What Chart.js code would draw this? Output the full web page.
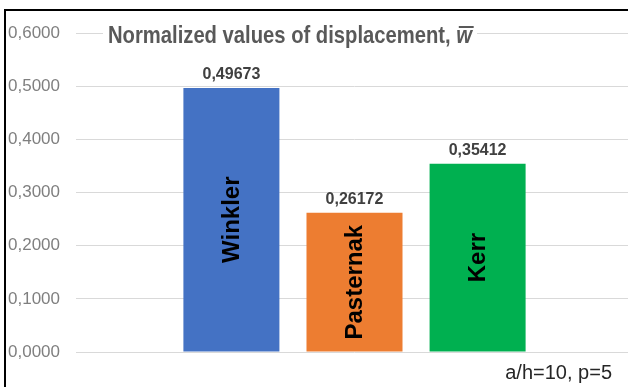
<!DOCTYPE html>
<html>
<head>
<meta charset="utf-8">
<script src="https://cdn.jsdelivr.net/npm/chart.js@4"></script>
<style>
  body { margin: 0; background: #fff; }
  #wrap { position: relative; width: 628px; height: 387px; overflow: hidden; }
  #frame { position: absolute; left: 4px; top: 9px; width: 640px; bottom: 0;
           border-top: 2px solid #000; border-left: 2px solid #000; pointer-events: none; }
</style>
</head>
<body>
<div id="wrap">
  <canvas id="chart" width="633" height="387"></canvas>
  <div id="frame"></div>
</div>
<script>
// data
const models = ["Winkler", "Pasternak", "Kerr"];
const displacement = [0.49673, 0.26172, 0.35412];
const yTicks = [0, 0.1, 0.2, 0.3, 0.4, 0.5, 0.6];
const barColors = ["#4472C4", "#ED7D31", "#00B050"];

const titleText = "Normalized values of displacement, ";
const noteText = "a/h=10, p=5";

function fmt(v, d) {
  return v.toFixed(d).replace(".", ",");
}

/* =========================
   TEXT ON TOP OF THE CHART
========================= */
const textPlugin = {
  id: "texts",
  afterDraw(chart) {
    const ctx = chart.ctx;
    ctx.save();

    // title (squeezed a bit like the original), white box behind it
    const titleFont = "bold 24px 'Liberation Sans', Arial, sans-serif";
    const wFont = "italic bold 24px 'Liberation Sans', Arial, sans-serif";
    ctx.font = titleFont;
    const tw = ctx.measureText(titleText).width;
    ctx.font = wFont;
    const ww = ctx.measureText("w").width;
    const tx = 108, ty = 43, targetW = 364;
    const sx = targetW / (tw + ww);
    ctx.fillStyle = "#fff";
    ctx.fillRect(tx - 5, 20, targetW + 10, 28);
    ctx.save();
    ctx.translate(tx, ty);
    ctx.scale(sx, 1);
    ctx.fillStyle = "#595959";
    ctx.textBaseline = "alphabetic";
    ctx.textAlign = "left";
    ctx.font = titleFont;
    ctx.fillText(titleText, 0, 0);
    ctx.font = wFont;
    ctx.fillText("w", tw, 0);
    ctx.fillRect(tw + 3, -17, ww - 1, 2);
    ctx.restore();

    // values above bars and names inside bars
    models.forEach((name, i) => {
      const bar = chart.getDatasetMeta(i).data[0];
      ctx.fillStyle = "#404040";
      ctx.font = "bold 16px 'Liberation Sans', Arial, sans-serif";
      ctx.textAlign = "center";
      ctx.textBaseline = "alphabetic";
      ctx.fillText(fmt(displacement[i], 5), bar.x, bar.y - 9);

      ctx.save();
      ctx.translate(bar.x, (bar.y + bar.base) / 2);
      ctx.rotate(-Math.PI / 2);
      ctx.fillStyle = "#000";
      ctx.font = "bold 24px 'Liberation Sans', Arial, sans-serif";
      ctx.textBaseline = "middle";
      ctx.fillText(name, 0, 1);
      ctx.restore();
    });

    // note bottom right
    ctx.fillStyle = "#262626";
    ctx.font = "20px 'Liberation Sans', Arial, sans-serif";
    ctx.textAlign = "right";
    ctx.textBaseline = "alphabetic";
    ctx.fillText(noteText, 612, 379);

    ctx.restore();
  }
};

new Chart(document.getElementById("chart"), {
  type: "bar",
  data: {
    labels: [""],
    datasets: models.map((name, i) => ({
      label: name,
      data: [displacement[i]],
      backgroundColor: barColors[i],
      borderWidth: 0
    }))
  },
  options: {
    responsive: false,
    animation: false,
    devicePixelRatio: 1,
    categoryPercentage: 0.663,
    barPercentage: 0.78,
    layout: { padding: { top: 33, bottom: 35, left: 6, right: 0 } },
    plugins: {
      legend: { display: false },
      title: { display: false },
      tooltip: { enabled: false }
    },
    scales: {
      x: { display: false },
      y: {
        min: 0,
        max: 0.6,
        afterBuildTicks: scale => {
          scale.ticks = yTicks.map(v => ({ value: v }));
        },
        afterFit: scale => { scale.width = 70; },
        ticks: {
          color: "#7f7f7f",
          padding: 16,
          font: { family: "'Liberation Sans', Arial, sans-serif", size: 17 },
          callback: v => fmt(v, 4)
        },
        grid: { color: "#d9d9d9", lineWidth: 1, drawTicks: false },
        border: { display: false }
      }
    }
  },
  plugins: [textPlugin]
});
</script>
</body>
</html>
